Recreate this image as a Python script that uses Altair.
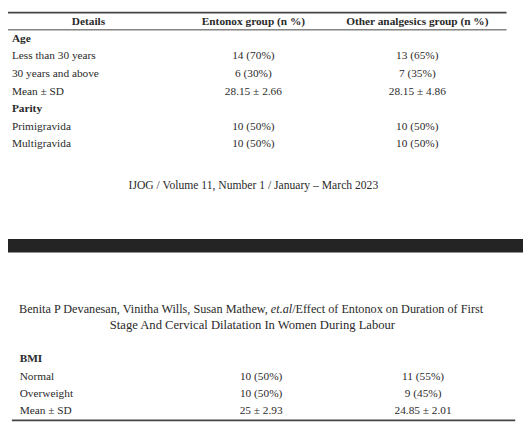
import altair as alt
import pandas as pd

# ---- table content ----
header = ["Details", "Entonox group (n %)", "Other analgesics group (n %)"]

top_labels = ["Age", "Less than 30 years", "30 years and above", "Mean ± SD",
              "Parity", "Primigravida", "Multigravida"]
top_entonox = ["", "14 (70%)", "6 (30%)", "28.15 ± 2.66", "", "10 (50%)", "10 (50%)"]
top_other = ["", "13 (65%)", "7 (35%)", "28.15 ± 4.86", "", "10 (50%)", "10 (50%)"]
top_bold = [True, False, False, False, True, False, False]

bottom_labels = ["BMI", "Normal", "Overweight", "Mean ± SD"]
bottom_entonox = ["", "10 (50%)", "10 (50%)", "25 ± 2.93"]
bottom_other = ["", "11 (55%)", "9 (45%)", "24.85 ± 2.01"]
bottom_bold = [True, False, False, False]

footer = "IJOG / Volume 11, Number 1 / January – March 2023"
running_head_1 = ["Benita P Devanesan, Vinitha Wills, Susan Mathew,", "et.al", "/Effect of Entonox on Duration of First"]
running_head_2 = "Stage And Cervical Dilatation In Women During Labour"

# ---- page layout (reference pixel frame) ----
W, H = 531, 433
top_rows_y = [30, 48, 67, 85, 103, 122, 140]
bottom_rows_y = [364, 383, 401, 419]
top_cols = (4, 253, 422)
bot_cols = (12, 261, 428)

left_rows, center_rows = [], []
for lab, e, o, b, y in zip(top_labels, top_entonox, top_other, top_bold, top_rows_y):
    left_rows.append(dict(t=lab, x=top_cols[0], y=y, b=b))
    center_rows += [dict(t=e, x=top_cols[1], y=y), dict(t=o, x=top_cols[2], y=y)]
for lab, e, o, b, y in zip(bottom_labels, bottom_entonox, bottom_other, bottom_bold, bottom_rows_y):
    left_rows.append(dict(t=lab, x=bot_cols[0], y=y, b=b))
    center_rows += [dict(t=e, x=bot_cols[1], y=y), dict(t=o, x=bot_cols[2], y=y)]

head_rows = [dict(t=header[0], x=83, y=12), dict(t=header[1], x=253, y=12), dict(t=header[2], x=422, y=12)]

left_df = pd.DataFrame(left_rows)
left_bold_df = left_df[left_df["b"]]
left_norm_df = left_df[~left_df["b"]]
center_df = pd.DataFrame([r for r in center_rows if r["t"]])
head_df = pd.DataFrame(head_rows)
footer_df = pd.DataFrame([dict(t=footer, x=253, y=183)])
rh1a_df = pd.DataFrame([dict(t=running_head_1[0], x=268, y=312)])
rh1b_df = pd.DataFrame([dict(t=running_head_1[1], x=271, y=312)])
rh1c_df = pd.DataFrame([dict(t=running_head_1[2], x=293, y=312)])
rh2_df = pd.DataFrame([dict(t=running_head_2, x=252, y=329)])

rules_df = pd.DataFrame([
    dict(x=0, x2=514, y=2.5, w=1.6),
    dict(x=0, x2=514, y=20.5, w=1.0),
    dict(x=4, x2=523, y=428.5, w=1.6),
])
band_df = pd.DataFrame([dict(x=0, x2=W, y=239, y2=253)])

xs = alt.Scale(domain=[0, W])
ys = alt.Scale(domain=[430, 1])
X = lambda f="x": alt.X(f"{f}:Q", scale=xs, axis=None)
Y = lambda f="y": alt.Y(f"{f}:Q", scale=ys, axis=None)

FONT = "Liberation Serif"
FS = 11.5
COL = "#2a2a2a"

band = alt.Chart(band_df).mark_rect(color="#242424").encode(
    x=X(), x2="x2:Q", y=Y(), y2="y2:Q")

rules = alt.Chart(rules_df).mark_rule(color="#444444").encode(
    x=X(), x2="x2:Q", y=Y(), strokeWidth=alt.StrokeWidth("w:Q", scale=None))

def txt(df, align, weight="normal", size=FS, style="normal"):
    return alt.Chart(df).mark_text(align=align, baseline="middle", font=FONT,
                                   fontSize=size, fontWeight=weight, fontStyle=style,
                                   color=COL).encode(
        x=X(), y=Y(), text="t:N")

RH = 12.4
chart = alt.layer(
    band, rules,
    txt(left_norm_df, "left"),
    txt(left_bold_df, "left", "bold"),
    txt(center_df, "center"),
    txt(head_df, "center", "bold"),
    txt(footer_df, "center", size=11.8),
    txt(rh1a_df, "right", size=RH),
    txt(rh1b_df, "left", size=RH, style="italic"),
    txt(rh1c_df, "left", size=RH),
    txt(rh2_df, "center", size=12.8),
).properties(
    width=523, height=417, padding=0, autosize=alt.AutoSizeParams(type="none"),
    background="white"
).configure_view(stroke=None)

chart.save("out.html", embed_options={"renderer": "svg", "actions": False})
